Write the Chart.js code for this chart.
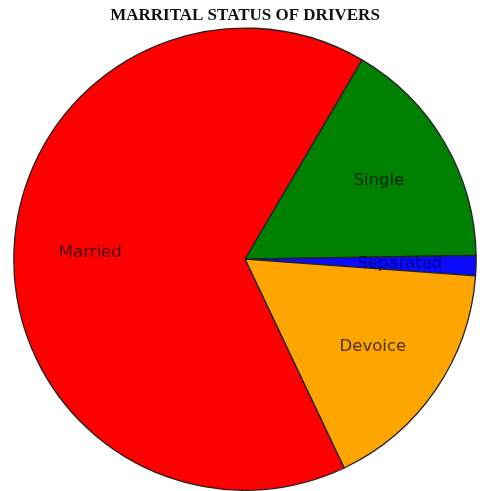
<!DOCTYPE html>
<html>
<head>
<meta charset="utf-8">
<script src="https://cdn.jsdelivr.net/npm/chart.js@4/dist/chart.umd.min.js"></script>
<style>
  html, body { margin: 0; padding: 0; background: #fff; }
  #wrap { width: 480px; height: 491px; }
</style>
</head>
<body>
<div id="wrap"><canvas id="pie"></canvas></div>
<script>
const labels = ['Single', 'Separated', 'Devoice', 'Married'];
const shares = [16.3, 1.4, 16.8, 65.5];
const colors = ['#008000', '#0a0aff', '#ffa500', '#ff0000'];

// slice labels drawn inside each slice at ~2/3 of the radius
const sliceLabels = {
  id: 'sliceLabels',
  afterDatasetsDraw(chart) {
    const ctx = chart.ctx;
    const arcs = chart.getDatasetMeta(0).data;
    ctx.save();
    ctx.font = '16.5px "DejaVu Sans"';
    ctx.textAlign = 'center';
    ctx.textBaseline = 'middle';
    arcs.forEach((arc, i) => {
      const p = arc.getProps(['x', 'y', 'startAngle', 'endAngle', 'outerRadius']);
      const mid = (p.startAngle + p.endAngle) / 2;
      const r = p.outerRadius * 0.67;
      ctx.fillStyle = i === 1 ? 'rgba(0,0,120,0.8)' : 'rgba(0,0,0,0.72)';
      ctx.fillText(labels[i], p.x + Math.cos(mid) * r, p.y + Math.sin(mid) * r);
    });
    ctx.restore();
  }
};

new Chart(document.getElementById('pie'), {
  type: 'pie',
  data: {
    labels: labels,
    datasets: [{
      data: shares,
      backgroundColor: colors,
      borderColor: '#222',
      borderWidth: 1.3
    }]
  },
  options: {
    responsive: true,
    maintainAspectRatio: false,
    animation: false,
    rotation: 30.4,
    layout: { padding: { left: 13, right: 3, top: 0, bottom: 0 } },
    plugins: {
      legend: { display: false },
      tooltip: { enabled: false },
      title: {
        display: true,
        text: 'MARRITAL STATUS OF DRIVERS',
        color: '#111',
        font: { family: '"Liberation Serif"', size: 17, weight: 'bold' },
        padding: { top: 5, bottom: 2 }
      }
    }
  },
  plugins: [sliceLabels]
});
</script>
</body>
</html>
